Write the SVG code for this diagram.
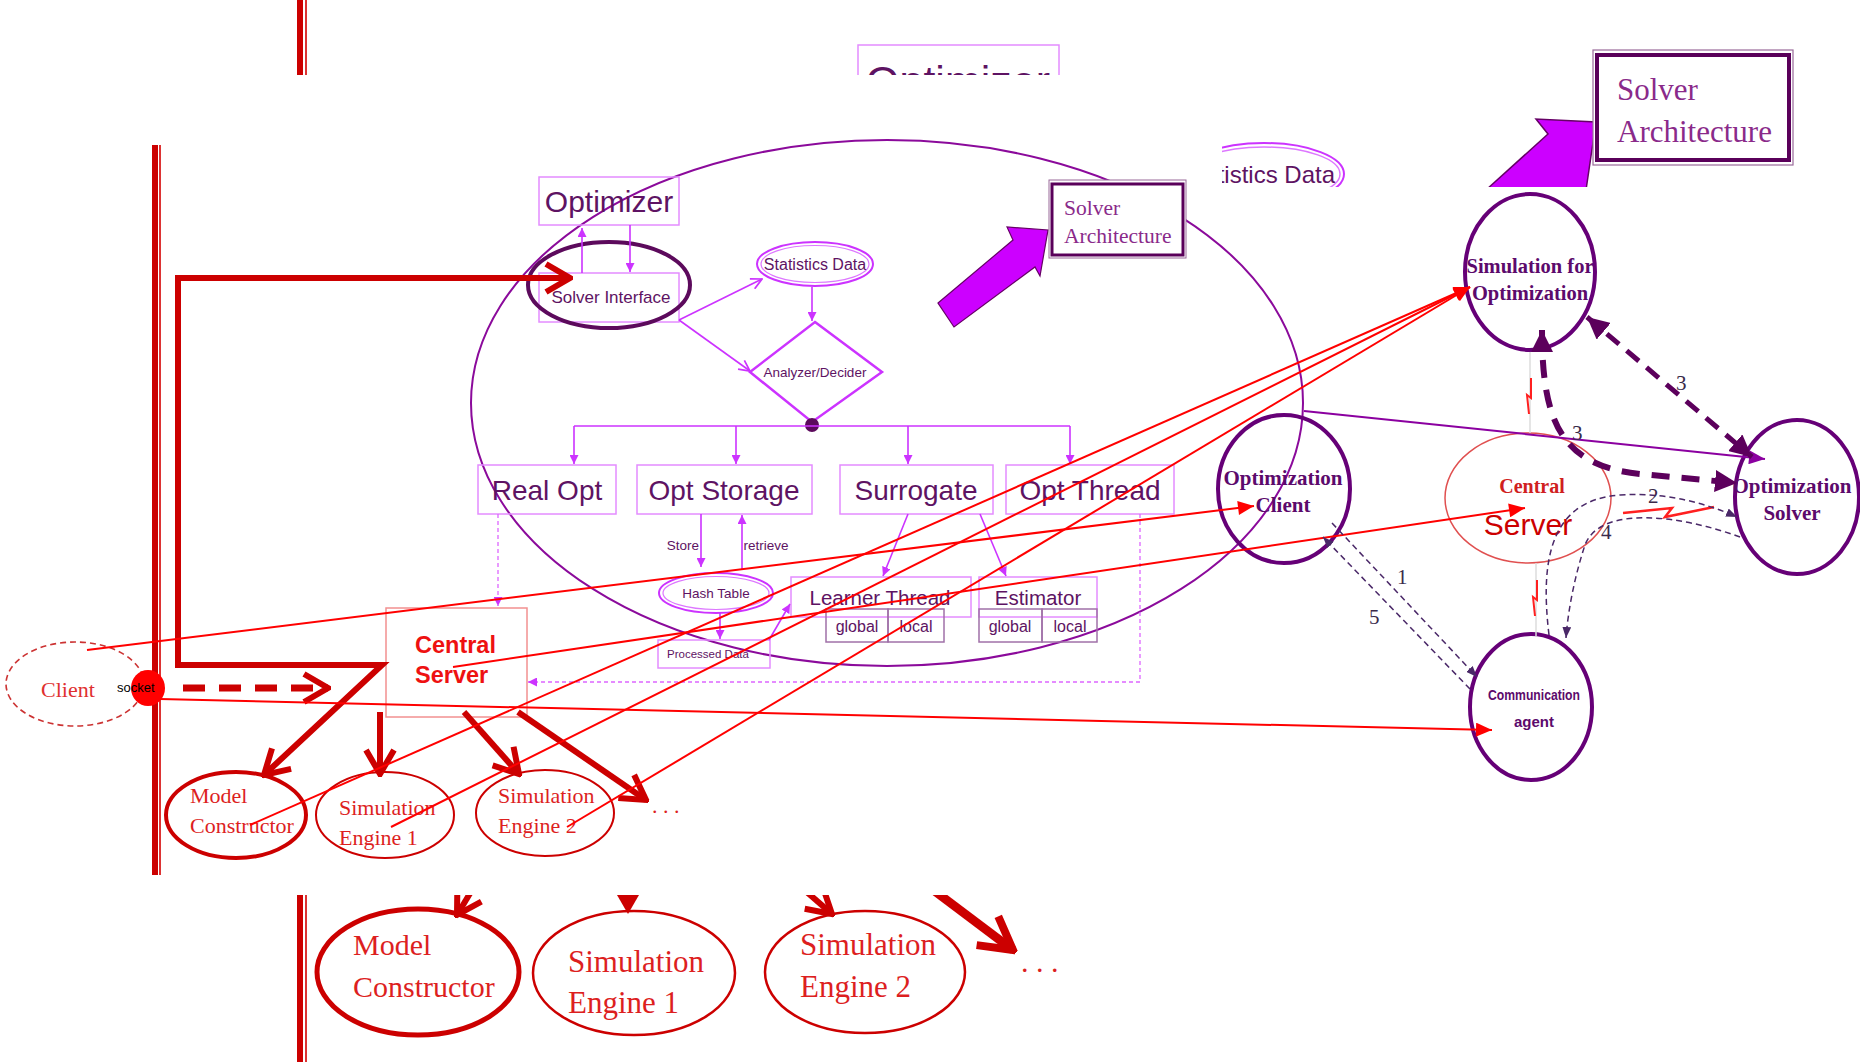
<svg xmlns="http://www.w3.org/2000/svg" width="1860" height="1062" viewBox="0 0 1860 1062">
<style>
.bx{fill:none;stroke:#e48cff;stroke-width:1.5}
.sb{fill:none;stroke:#a070a8;stroke-width:1.5}
.mt{font-family:"Liberation Sans",Arial,sans-serif;fill:#5e1363}
.sf{font-family:"Liberation Serif","Times New Roman",serif}
.mg{stroke:#cc33ff;stroke-width:1.6;fill:none}
.md{stroke:#dd66ff;stroke-width:1.3;fill:none;stroke-dasharray:4,3}
.rt{stroke:#ff0000;stroke-width:2;fill:none}
.tk{stroke:#cc0000;stroke-width:6;fill:none}
.rn{fill:#dd1f1f}
.pn{fill:none;stroke:#660077;stroke-width:4}
.pt{font-family:"Liberation Serif","Times New Roman",serif;font-weight:bold;fill:#5c0a6c;text-anchor:middle}
.td{stroke:#4a2868;stroke-width:1.5;fill:none;stroke-dasharray:6,4}
.lb{font-family:"Liberation Serif","Times New Roman",serif;font-size:21px;fill:#3a2a4a}
</style>
<defs>
<marker id="mT" viewBox="0 0 10 10" refX="10" refY="5" markerWidth="9" markerHeight="9" markerUnits="userSpaceOnUse" orient="auto"><path d="M0,0L10,5L0,10z" fill="#cc33ff"/></marker>
<marker id="mV" viewBox="0 0 12 12" refX="11" refY="6" markerWidth="13" markerHeight="13" markerUnits="userSpaceOnUse" orient="auto"><path d="M1,1L11,6L1,11" fill="none" stroke="#cc33ff" stroke-width="1.6"/></marker>
<marker id="rT" viewBox="0 0 16 14" refX="16" refY="7" markerWidth="17" markerHeight="14" markerUnits="userSpaceOnUse" orient="auto"><path d="M0,0L16,7L0,14z" fill="#ff0000"/></marker>
<marker id="pT" viewBox="0 0 16 14" refX="16" refY="7" markerWidth="17" markerHeight="14" markerUnits="userSpaceOnUse" orient="auto"><path d="M0,0L16,7L0,14z" fill="#8b00a0"/></marker>
<marker id="dT" viewBox="0 0 20 20" refX="20" refY="10" markerWidth="22" markerHeight="22" markerUnits="userSpaceOnUse" orient="auto-start-reverse"><path d="M0,0L20,10L0,20z" fill="#5c005c"/></marker>
<marker id="sT" viewBox="0 0 10 8" refX="10" refY="4" markerWidth="11" markerHeight="9" markerUnits="userSpaceOnUse" orient="auto"><path d="M0,0L10,4L0,8z" fill="#4a2868"/></marker>
<marker id="ch" viewBox="0 0 30 34" refX="27" refY="17" markerWidth="30" markerHeight="34" markerUnits="userSpaceOnUse" orient="auto"><path d="M3,3L27,17L3,31" fill="none" stroke="#cc0000" stroke-width="6"/></marker>
<marker id="chB" viewBox="0 0 40 44" refX="36" refY="22" markerWidth="40" markerHeight="44" markerUnits="userSpaceOnUse" orient="auto"><path d="M4,4L36,22L4,40" fill="none" stroke="#cc0000" stroke-width="8"/></marker>
</defs>
<rect x="0" y="0" width="1860" height="1062" fill="#ffffff"/>

<g id="background">
<rect x="297" y="0" width="6" height="1062" fill="#cc0000"/>
<rect x="305" y="0" width="2" height="1062" fill="#dd3333"/>
<rect x="858" y="45" width="201" height="70" class="bx"/>
<text x="958" y="96" class="mt" font-size="43" text-anchor="middle">Optimizer</text>
<ellipse cx="1264" cy="174" rx="80" ry="31" fill="none" stroke="#cc33ff" stroke-width="2"/>
<ellipse cx="1264" cy="174" rx="76" ry="27" fill="none" stroke="#dd77ff" stroke-width="1.5"/>
<text x="1335" y="183" class="mt" font-size="24" text-anchor="end">Statistics Data</text>
<polygon points="1486,190 1548,134 1536,119 1596,122 1586,190" fill="#cc00ff" stroke="#660066" stroke-width="1.5"/>
<rect x="1593" y="50" width="200" height="115" fill="#fff" stroke="#9a6a9a" stroke-width="1.2"/>
<rect x="1597" y="55" width="192" height="105" fill="none" stroke="#5a005a" stroke-width="4"/>
<text x="1617" y="100" class="sf" font-size="31" fill="#8a2a8a">Solver</text>
<text x="1617" y="142" class="sf" font-size="31" fill="#8a2a8a">Architecture</text>
<ellipse cx="418" cy="972" rx="101" ry="63" fill="none" stroke="#cc0000" stroke-width="5"/>
<text x="353" y="955" class="sf rn" font-size="30">Model</text>
<text x="353" y="997" class="sf rn" font-size="30">Constructor</text>
<ellipse cx="634" cy="973" rx="101" ry="62" fill="none" stroke="#cc0000" stroke-width="2.5"/>
<text x="568" y="972" class="sf rn" font-size="31">Simulation</text>
<text x="568" y="1013" class="sf rn" font-size="31">Engine 1</text>
<ellipse cx="865" cy="972" rx="100" ry="61" fill="none" stroke="#cc0000" stroke-width="2.5"/>
<text x="800" y="955" class="sf rn" font-size="31">Simulation</text>
<text x="800" y="997" class="sf rn" font-size="31">Engine 2</text>
<text x="1021" y="972" class="sf rn" font-size="30">. . .</text>
<path d="M490,860 L457,915" class="tk" marker-end="url(#ch)"/>
<path d="M627,860 V900" class="tk"/>
<polygon points="617,895 639,895 628,914" fill="#cc0000"/>
<path d="M770,860 L832,914" class="tk" marker-end="url(#ch)"/>
<path d="M920,880 L1013,950" stroke="#cc0000" stroke-width="9" fill="none" marker-end="url(#chB)"/>
</g>

<rect x="0" y="75" width="1222" height="820" fill="#ffffff"/>
<rect x="1222" y="187" width="638" height="708" fill="#ffffff"/>

<g id="middle-frame">
<rect x="152" y="145" width="6" height="730" fill="#cc0000"/>
<rect x="159" y="145" width="2" height="730" fill="#dd3333"/>
<ellipse cx="887" cy="403" rx="416" ry="263" fill="none" stroke="#8b0a9b" stroke-width="2"/>
</g>

<g id="optimizer">
<rect x="539" y="177" width="140" height="48" class="bx"/>
<text x="609" y="212" class="mt" font-size="30" text-anchor="middle">Optimizer</text>
</g>
<g id="solver-interface">
<rect x="539" y="273" width="140" height="49" class="bx"/>
<text x="611" y="303" class="mt" font-size="17" text-anchor="middle">Solver Interface</text>
<ellipse cx="609" cy="285" rx="81" ry="43" fill="none" stroke="#5c0a5c" stroke-width="4"/>
</g>
<g id="statistics-data">
<ellipse cx="815" cy="264" rx="58" ry="22" fill="none" stroke="#cc33ff" stroke-width="2"/>
<ellipse cx="815" cy="264" rx="54" ry="18.5" fill="none" stroke="#dd77ff" stroke-width="1.2"/>
<text x="815" y="270" class="mt" font-size="16" text-anchor="middle">Statistics Data</text>
</g>
<g id="analyzer-decider">
<polygon points="815,322 882,372 812,422 750,372" fill="none" stroke="#cc33ff" stroke-width="2.5"/>
<text x="815" y="377" class="mt" font-size="13.5" text-anchor="middle">Analyzer/Decider</text>
<circle cx="812" cy="425" r="7" fill="#5c0a5c"/>
</g>
<g id="real-opt"><rect x="478" y="465" width="138" height="49" class="bx"/><text x="547" y="500" class="mt" font-size="28" text-anchor="middle">Real Opt</text></g>
<g id="opt-storage"><rect x="637" y="465" width="175" height="49" class="bx"/><text x="724" y="500" class="mt" font-size="28" text-anchor="middle">Opt Storage</text></g>
<g id="surrogate"><rect x="840" y="465" width="153" height="49" class="bx"/><text x="916" y="500" class="mt" font-size="28" text-anchor="middle">Surrogate</text></g>
<g id="opt-thread"><rect x="1006" y="465" width="168" height="49" class="bx"/><text x="1090" y="500" class="mt" font-size="28" text-anchor="middle">Opt Thread</text></g>
<g id="hash-table">
<ellipse cx="716" cy="593" rx="57" ry="20" fill="none" stroke="#cc33ff" stroke-width="2"/>
<ellipse cx="716" cy="593" rx="53" ry="16.5" fill="none" stroke="#dd77ff" stroke-width="1.2"/>
<text x="716" y="598" class="mt" font-size="13.5" text-anchor="middle">Hash Table</text>
</g>
<g id="processed-data"><rect x="658" y="640" width="112" height="28" class="bx"/><text x="708" y="658" class="mt" font-size="11.5" text-anchor="middle">Processed Data</text></g>
<g id="learner-thread">
<rect x="791" y="577" width="180" height="40" class="bx"/>
<text x="880" y="605" class="mt" font-size="20.5" text-anchor="middle">Learner Thread</text>
<rect x="826" y="609" width="62" height="33" class="sb"/><rect x="888" y="609" width="56" height="33" class="sb"/>
<text x="857" y="632" class="mt" font-size="16" text-anchor="middle">global</text>
<text x="916" y="632" class="mt" font-size="16" text-anchor="middle">local</text>
</g>
<g id="estimator">
<rect x="979" y="577" width="118" height="40" class="bx"/>
<text x="1038" y="605" class="mt" font-size="20.5" text-anchor="middle">Estimator</text>
<rect x="979" y="609" width="63" height="33" class="sb"/><rect x="1042" y="609" width="55" height="33" class="sb"/>
<text x="1010" y="632" class="mt" font-size="16" text-anchor="middle">global</text>
<text x="1070" y="632" class="mt" font-size="16" text-anchor="middle">local</text>
</g>
<g id="central-server">
<rect x="386" y="608" width="141" height="109" fill="none" stroke="#f29090" stroke-width="1.5"/>
<text x="415" y="653" font-family="Liberation Sans,Arial,sans-serif" font-weight="bold" font-size="23.5" fill="#ee1111">Central</text>
<text x="415" y="683" font-family="Liberation Sans,Arial,sans-serif" font-weight="bold" font-size="23.5" fill="#ee1111">Server</text>
</g>
<g id="client">
<ellipse cx="75" cy="684" rx="69" ry="42" fill="none" stroke="#cc3333" stroke-width="1.6" stroke-dasharray="6,4"/>
<text x="41" y="697" class="sf" font-size="22" fill="#e03030">Client</text>
</g>
<g id="socket">
<ellipse cx="148" cy="688" rx="17" ry="18" fill="#ff0000"/>
<text x="117" y="692" font-family="Liberation Sans,Arial,sans-serif" font-size="13" fill="#000">socket</text>
</g>
<g id="model-constructor">
<ellipse cx="236" cy="815" rx="70" ry="43" fill="none" stroke="#cc0000" stroke-width="4"/>
<text x="190" y="803" class="sf rn" font-size="22">Model</text>
<text x="190" y="833" class="sf rn" font-size="22">Constructor</text>
</g>
<g id="simulation-engine-1">
<ellipse cx="385" cy="815" rx="69" ry="43" fill="none" stroke="#cc0000" stroke-width="2"/>
<text x="339" y="815" class="sf rn" font-size="22">Simulation</text>
<text x="339" y="845" class="sf rn" font-size="22">Engine 1</text>
</g>
<g id="simulation-engine-2">
<ellipse cx="545" cy="813" rx="69" ry="43" fill="none" stroke="#cc0000" stroke-width="2"/>
<text x="498" y="803" class="sf rn" font-size="22">Simulation</text>
<text x="498" y="833" class="sf rn" font-size="22">Engine 2</text>
</g>
<text x="652" y="813" class="sf rn" font-size="22">. . .</text>
<g id="small-solver-architecture">
<polygon points="938,303 1013,240 1007,227 1048,230 1040,276 1035,267 954,327" fill="#cc00ff" stroke="#660066" stroke-width="1.2"/>
<rect x="1049" y="180" width="137" height="78" fill="#fff" stroke="#9a6a9a" stroke-width="1"/>
<rect x="1052" y="184" width="131" height="71" fill="none" stroke="#5a005a" stroke-width="3"/>
<text x="1064" y="215" class="sf" font-size="21.5" fill="#8a2a8a">Solver</text>
<text x="1064" y="243" class="sf" font-size="21.5" fill="#8a2a8a">Architecture</text>
</g>

<g id="right-nodes">
<g id="sim-for-opt">
<ellipse cx="1530" cy="272" rx="65" ry="78" class="pn"/>
<text x="1530" y="273" class="pt" font-size="20.5">Simulation for</text>
<text x="1530" y="300" class="pt" font-size="20.5">Optimization</text>
</g>
<g id="optimization-client">
<ellipse cx="1284" cy="489" rx="66" ry="74" class="pn"/>
<text x="1283" y="485" class="pt" font-size="21">Optimization</text>
<text x="1283" y="512" class="pt" font-size="21">Client</text>
</g>
<g id="central-server-right">
<ellipse cx="1528" cy="498" rx="83" ry="65" fill="none" stroke="#e05050" stroke-width="1.5"/>
<text x="1532" y="493" class="sf" font-weight="bold" font-size="20" fill="#d02020" text-anchor="middle">Central</text>
<text x="1528" y="535" font-family="Liberation Sans,Arial,sans-serif" font-size="30" fill="#cc0000" text-anchor="middle">Server</text>
</g>
<g id="optimization-solver">
<ellipse cx="1797" cy="497" rx="62" ry="77" class="pn"/>
<text x="1792" y="493" class="pt" font-size="21">Optimization</text>
<text x="1792" y="520" class="pt" font-size="21">Solver</text>
</g>
<g id="communication-agent">
<ellipse cx="1531" cy="707" rx="61" ry="73" class="pn"/>
<text x="1534" y="700" font-family="Liberation Sans,Arial,sans-serif" font-weight="bold" font-size="15" fill="#5c0a6c" text-anchor="middle" textLength="92" lengthAdjust="spacingAndGlyphs">Communication</text>
<text x="1534" y="727" font-family="Liberation Sans,Arial,sans-serif" font-weight="bold" font-size="15" fill="#5c0a6c" text-anchor="middle">agent</text>
</g>
</g>

<g id="connectors">
<path d="M582,273 V228" class="mg" marker-end="url(#mT)"/>
<path d="M630,225 V272" class="mg" marker-end="url(#mT)"/>
<path d="M679,320 L762,279" class="mg" marker-end="url(#mV)"/>
<path d="M679,320 L750,371" class="mg" marker-end="url(#mV)"/>
<path d="M812,287 V321" class="mg" marker-end="url(#mT)"/>
<path d="M574,426 H1070" class="mg"/>
<path d="M574,426 V464" class="mg" marker-end="url(#mT)"/>
<path d="M736,426 V464" class="mg" marker-end="url(#mT)"/>
<path d="M908,426 V464" class="mg" marker-end="url(#mT)"/>
<path d="M1070,426 V464" class="mg" marker-end="url(#mT)"/>
<path d="M701,514 V567" class="mg" marker-end="url(#mT)"/>
<path d="M742,570 V515" class="mg" marker-end="url(#mT)"/>
<text x="683" y="550" class="mt" font-size="13.5" text-anchor="middle">Store</text>
<text x="766" y="550" class="mt" font-size="13.5" text-anchor="middle">retrieve</text>
<path d="M720,613 V639" class="mg" marker-end="url(#mT)"/>
<path d="M769,640 L790,604" class="mg" marker-end="url(#mT)"/>
<path d="M908,514 L883,576" class="mg" marker-end="url(#mT)"/>
<path d="M980,514 L1006,576" class="mg" marker-end="url(#mT)"/>
<path d="M498,514 V606" class="md" marker-end="url(#mT)"/>
<path d="M1140,514 V682 H528" class="md" marker-end="url(#mT)"/>

<path d="M178,278 H570" class="tk" marker-end="url(#ch)"/>
<path d="M178,275 V665 H382 L264,775" class="tk" stroke-linejoin="miter" marker-end="url(#ch)"/>
<path d="M183,688 H328" stroke="#cc0000" stroke-width="7" fill="none" stroke-dasharray="22,14" marker-end="url(#ch)"/>
<path d="M380,712 V774" class="tk" marker-end="url(#ch)"/>
<path d="M464,712 L519,774" class="tk" marker-end="url(#ch)"/>
<path d="M518,712 L646,800" class="tk" marker-end="url(#ch)"/>

<path d="M87,650 L1254,506" class="rt" marker-end="url(#rT)"/>
<path d="M453,667 L1525,508" class="rt" marker-end="url(#rT)"/>
<path d="M160,699 L1492,730" class="rt" marker-end="url(#rT)"/>
<path d="M250,825 L1470,287" class="rt" marker-end="url(#rT)"/>
<path d="M391,827 L1470,287" class="rt" marker-end="url(#rT)"/>
<path d="M567,827 L1470,287" class="rt" marker-end="url(#rT)"/>
<path d="M1304,411 L1765,459" stroke="#8b00a0" stroke-width="2" fill="none" marker-end="url(#pT)"/>

<path d="M1530,352 V433" stroke="#dddddd" stroke-width="1.5"/>
<polyline points="1531,378 1531,398 1527,395 1529,414" fill="none" stroke="#ff2020" stroke-width="2"/>
<path d="M1536,563 V636" stroke="#dddddd" stroke-width="1.5"/>
<polyline points="1537,580 1537,600 1533,597 1535,616" fill="none" stroke="#ff2020" stroke-width="2"/>
<polyline points="1623,513 1672,508 1665,517 1714,507" fill="none" stroke="#ff2020" stroke-width="2.5"/>

<path d="M1587,317 L1752,457" stroke="#5c005c" stroke-width="5" fill="none" stroke-dasharray="16,10" marker-start="url(#dT)" marker-end="url(#dT)"/>
<text x="1676" y="390" class="lb">3</text>
<path d="M1542,330 C1542,420 1560,466 1640,474 L1737,483" stroke="#5c005c" stroke-width="6" fill="none" stroke-dasharray="18,12" marker-start="url(#dT)" marker-end="url(#dT)"/>
<text x="1572" y="440" class="lb">3</text>

<path d="M1332,523 L1477,677" class="td" marker-end="url(#sT)"/>
<path d="M1470,689 L1323,537" class="td" marker-end="url(#sT)"/>
<text x="1397" y="584" class="lb">1</text>
<text x="1369" y="624" class="lb">5</text>
<path d="M1549,635 C1540,560 1550,500 1620,495 C1670,492 1710,505 1737,517" class="td" marker-end="url(#sT)"/>
<text x="1648" y="503" class="lb">2</text>
<path d="M1740,537 C1680,515 1600,505 1585,545 C1575,575 1568,610 1566,638" class="td" marker-end="url(#sT)"/>
<text x="1601" y="539" class="lb">4</text>
</g>
</svg>
